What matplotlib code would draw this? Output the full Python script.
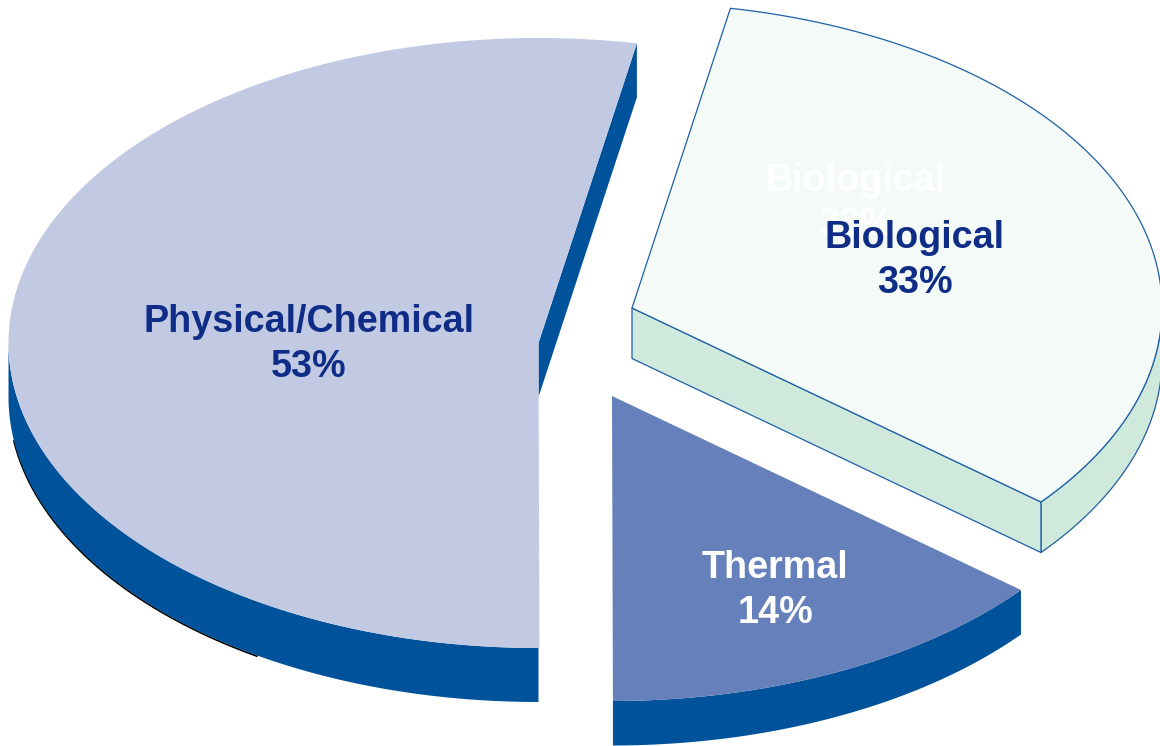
import numpy as np
import matplotlib
matplotlib.use("Agg")
import matplotlib.pyplot as plt
from matplotlib.patches import Polygon

categories = ["Biological", "Thermal", "Physical/Chemical"]
values = [33, 14, 53]
tick_labels = ["33%", "14%", "53%"]

START = 10.7
RX, RY = 530.0, 305.0
apex = {"Biological": (632, 308), "Thermal": (612, 396), "Physical/Chemical": (538.5, 343)}
depth = {"Biological": 50.5, "Thermal": 44.5, "Physical/Chemical": 54}
top_col = {"Biological": "#F3FAF7", "Thermal": "#6580BA", "Physical/Chemical": "#C2CAE3"}
side_col = {"Biological": "#D0E9DD", "Thermal": "#00529B", "Physical/Chemical": "#00529B"}
edge_col = {"Biological": "#1F5FA5", "Thermal": "none", "Physical/Chemical": "none"}
txt_col = {"Biological": "#0F2D86", "Thermal": "#FFFFFF", "Physical/Chemical": "#0F2D86"}
txt_pos = {"Biological": (914.5, 260.5), "Thermal": (775, 590.5), "Physical/Chemical": (308.5, 344.5)}

fig = plt.figure(figsize=(11.6, 7.46), dpi=100)
ax = fig.add_axes([0, 0, 1, 1])
ax.set_xlim(0, 1160)
ax.set_ylim(746, 0)
ax.axis("off")


def arc(c, a0, a1, dy=0.0):
    t = np.radians(np.linspace(a0, a1, 240))
    return np.column_stack([c[0] + RX * np.sin(t), c[1] - RY * np.cos(t) + dy])


def band(c, a0, a1, d):
    return np.vstack([arc(c, a0, a1), arc(c, a0, a1, d)[::-1]])


def add(xy, fc, ec="none", lw=0.0, z=1):
    ax.add_patch(Polygon(xy, closed=True, facecolor=fc, edgecolor=ec, linewidth=lw, zorder=z, joinstyle="round"))


angles = START + np.cumsum([0] + values) * 3.6
spans = {n: (angles[i], angles[i + 1]) for i, n in enumerate(categories)}

# Physical / Chemical
n = "Physical/Chemical"
c, d = apex[n], depth[n]
a0, a1 = spans[n]
black = arc(c, 212, 262, d + 0.8)
ax.plot(black[:, 0], black[:, 1], color="black", lw=1.2, zorder=1, solid_capstyle="butt")
add(band(c, 180, 270, d), side_col[n], z=2)
e = arc(c, a1, a1)[0]
add([e, c, (c[0], c[1] + d), (e[0], e[1] + d)], side_col[n], z=2)
add(np.vstack([[c], arc(c, a0, a1)]), top_col[n], z=3)

# Biological
n = "Biological"
c, d = apex[n], depth[n]
a0, a1 = spans[n]
e = arc(c, a1, a1)[0]
add(band(c, 90, a1, d), side_col[n], edge_col[n], 0.9, z=2)
add([c, e, (e[0], e[1] + d), (c[0], c[1] + d)], side_col[n], edge_col[n], 0.9, z=2)
add(np.vstack([[c], arc(c, a0, a1)]), top_col[n], edge_col[n], 0.9, z=3)

# Thermal
n = "Thermal"
c, d = apex[n], depth[n]
a0, a1 = spans[n]
add(band(c, a0, a1, d), side_col[n], z=2)
add(np.vstack([[c], arc(c, a0, a1)]), top_col[n], z=3)

font = dict(family="Liberation Sans", fontweight="bold", fontsize=27.2, ha="center", va="center",
            linespacing=1.29, zorder=6)
# Faint leftover label behind the biological one
ax.text(856, 203, f"{categories[0]}\n{tick_labels[0]}", color="#FFFFFF", **{**font, "zorder": 5})
for name, lab in zip(categories, tick_labels):
    x, y = txt_pos[name]
    ax.text(x, y, f"{name}\n{lab}", color=txt_col[name], **font)

fig.savefig("out.png", dpi=100, facecolor="white")
